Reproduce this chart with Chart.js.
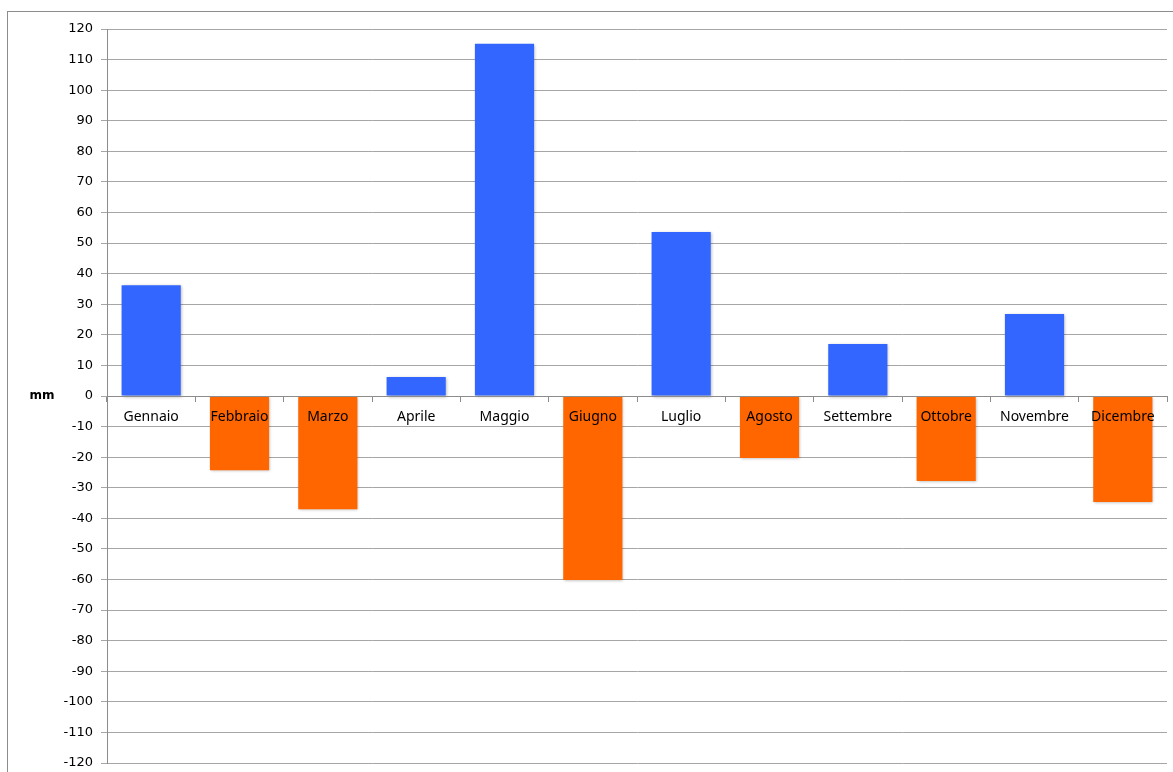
<!DOCTYPE html>
<html>
<head>
<meta charset="utf-8">
<script src="https://cdn.jsdelivr.net/npm/chart.js@4/dist/chart.umd.min.js"></script>
<style>
  html, body { margin: 0; padding: 0; background: #fff; }
  #wrap { width: 1173px; height: 772px; }
</style>
</head>
<body>
<div id="wrap"><canvas id="chart" width="1173" height="772"></canvas></div>
<script>
const months = ["Gennaio", "Febbraio", "Marzo", "Aprile", "Maggio", "Giugno",
  "Luglio", "Agosto", "Settembre", "Ottobre", "Novembre", "Dicembre"];
// scarto mensile delle precipitazioni (mm)
const anomaly = [36.2, -24.3, -37, 6.2, 115.2, -60.2, 53.6, -20.3, 17, -27.8, 26.8, -34.7];
const yMin = -120, yMax = 120, yStep = 10;

const POS = '#3366ff', NEG = '#ff6600';

// outer frame + "mm" unit label beside the zero line
const decor = {
  id: 'decor',
  beforeDraw(chart) {
    const ctx = chart.ctx;
    ctx.save();
    ctx.strokeStyle = '#8c8c8c';
    ctx.lineWidth = 1;
    ctx.strokeRect(7.5, 11.5, 1300, 900);
    ctx.restore();
  },
  afterDraw(chart) {
    const ctx = chart.ctx;
    const y0 = chart.scales.y.getPixelForValue(0);
    ctx.save();
    ctx.font = 'bold 12px "DejaVu Sans"';
    ctx.fillStyle = '#000';
    ctx.textAlign = 'center';
    ctx.textBaseline = 'middle';
    ctx.fillText('mm', 42, y0);
    ctx.restore();
  }
};

// light drop shadow under the bars
const barShadow = {
  id: 'barShadow',
  beforeDatasetsDraw(chart) {
    const ctx = chart.ctx;
    ctx.save();
    ctx.shadowColor = 'rgba(0,0,0,0.3)';
    ctx.shadowBlur = 3;
    ctx.shadowOffsetX = 1;
    ctx.shadowOffsetY = 1;
  },
  afterDatasetsDraw(chart) {
    chart.ctx.restore();
  }
};

function noPad(scale) {
  scale.paddingTop = 0;
  scale.paddingBottom = 0;
  scale.paddingLeft = 0;
  scale.paddingRight = 0;
}

new Chart(document.getElementById('chart').getContext('2d'), {
  type: 'bar',
  data: {
    labels: months,
    datasets: [{
      data: anomaly,
      backgroundColor: anomaly.map(v => v >= 0 ? POS : NEG),
      borderWidth: 0,
      barPercentage: 0.67,
      categoryPercentage: 1
    }]
  },
  options: {
    responsive: false,
    animation: false,
    layout: { padding: { left: 0, top: 29, right: 6, bottom: 9 } },
    plugins: {
      legend: { display: false },
      tooltip: { enabled: false }
    },
    scales: {
      x: {
        position: { y: 0 },
        afterFit(scale) { scale.height = 0; noPad(scale); },
        grid: {
          offset: true,
          drawOnChartArea: false,
          drawTicks: true,
          tickLength: 5,
          color: '#8c8c8c'
        },
        border: { color: '#8c8c8c', z: 1 },
        ticks: {
          z: 1,
          color: '#000',
          padding: 8,
          maxRotation: 0,
          autoSkip: false,
          font: { family: '"Noto Sans"', size: 14 }
        }
      },
      y: {
        min: yMin,
        max: yMax,
        afterFit(scale) { scale.width = 107; noPad(scale); },
        grid: {
          color: '#a6a6a6',
          tickLength: 6,
          drawTicks: true
        },
        border: { color: '#8c8c8c' },
        ticks: {
          stepSize: yStep,
          color: '#000',
          padding: 8,
          font: { family: '"DejaVu Sans"', size: 13 }
        }
      }
    }
  },
  plugins: [decor, barShadow]
});
</script>
</body>
</html>
